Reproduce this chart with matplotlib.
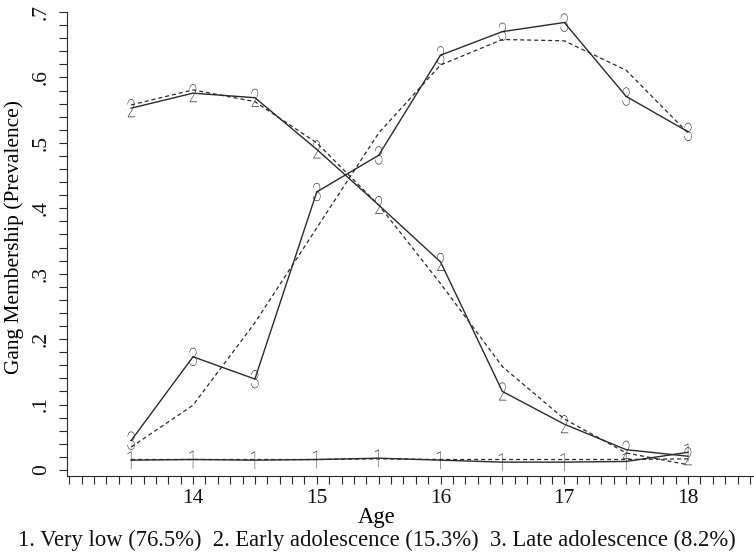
import matplotlib
matplotlib.use("Agg")
import matplotlib.pyplot as plt
import matplotlib.transforms as mtransforms
from matplotlib.patheffects import AbstractPathEffect
import numpy as np

# ages and group trajectories (observed = solid, predicted = dashed)
age = [13.5, 14, 14.5, 15, 15.5, 16, 16.5, 17, 17.5, 18]
obs1 = [0.015, 0.016, 0.015, 0.016, 0.018, 0.015, 0.012, 0.012, 0.013, 0.027]
obs2 = [0.553, 0.576, 0.569, 0.490, 0.405, 0.318, 0.120, 0.070, 0.031, 0.021]
obs3 = [0.045, 0.173, 0.139, 0.425, 0.481, 0.634, 0.670, 0.684, 0.571, 0.517]
pred1 = [0.016, 0.016, 0.016, 0.016, 0.017, 0.016, 0.016, 0.016, 0.016, 0.017]
pred2 = [0.558, 0.581, 0.563, 0.500, 0.405, 0.285, 0.158, 0.078, 0.026, 0.008]
pred3 = [0.035, 0.099, 0.225, 0.370, 0.515, 0.619, 0.658, 0.656, 0.611, 0.515]

x_ticks = [14, 15, 16, 17, 18]
y_ticks = [0, 0.1, 0.2, 0.3, 0.4, 0.5, 0.6, 0.7]
y_tick_labels = ["0", ".1", ".2", ".3", ".4", ".5", ".6", ".7"]
legend_text = "1. Very low (76.5%)  2. Early adolescence (15.3%)  3. Late adolescence (8.2%)"

plt.rcParams['font.family'] = ['Liberation Serif', 'DejaVu Serif']
ink = "#2a2a2a"


class Squeeze(AbstractPathEffect):
    # narrows the glyphs horizontally about their centre
    def __init__(self, sx):
        super().__init__()
        self.sx = sx

    def draw_path(self, renderer, gc, tpath, affine, rgbFace=None):
        ext = tpath.get_extents(affine)
        cx = (ext.x0 + ext.x1) / 2
        aff = affine + mtransforms.Affine2D().translate(-cx, 0).scale(self.sx, 1).translate(cx, 0)
        renderer.draw_path(gc, tpath, aff, rgbFace)


fig = plt.figure(figsize=(7.54, 5.59), dpi=100)
ax = fig.add_axes([0.0889, 0.1485, 0.9111, 0.830])

# digit markers sit a touch below the data point
mark_off = mtransforms.offset_copy(ax.transData, fig=fig, x=0, y=-2, units="dots")

groups = [("1", obs1, pred1), ("2", obs2, pred2), ("3", obs3, pred3)]
for lab, obs, pred in groups:
    ax.plot(age, obs, color=ink, lw=1.0)
    ax.plot(age, pred, color=ink, lw=0.9, linestyle=(0, (3.2, 2.4)))
    for xv, yv in zip(age, obs):
        ax.text(xv, yv, lab, ha="center", va="center", fontsize=18,
                family=["Roboto", "DejaVu Sans"], fontweight="light",
                color="#1e1e1e", transform=mark_off,
                path_effects=[Squeeze(0.68)])

ax.set_xlim(12.982, 18.533)
ax.set_ylim(-0.0092, 0.7)

ax.set_xticks(x_ticks)
ax.set_xticks(np.arange(13.0, 18.55, 0.1), minor=True)
ax.set_yticks(y_ticks)
ax.set_yticklabels(y_tick_labels, rotation=90, va="center")
ax.set_yticks(np.arange(0, 0.701, 0.02), minor=True)

ax.tick_params(axis="both", which="both", length=5.5, width=0.8, color=ink,
               labelsize=15.5, labelcolor="#111111")
ax.tick_params(axis="x", pad=4)
ax.tick_params(axis="y", pad=6)

ax.spines["top"].set_visible(False)
ax.spines["right"].set_visible(False)
ax.spines["left"].set_color(ink)
ax.spines["bottom"].set_color(ink)

ax.set_xlabel("Age", fontsize=16.3)
ax.xaxis.set_label_coords(0.451, -0.066)
ax.set_ylabel("Gang Membership (Prevalence)", fontsize=15.4)
ax.yaxis.set_label_coords(-0.062, 0.515)

fig.text(0.5, 0.034, legend_text, ha="center", va="center", fontsize=16.3,
         color="#111111")

fig.savefig("out.png", dpi=100)
